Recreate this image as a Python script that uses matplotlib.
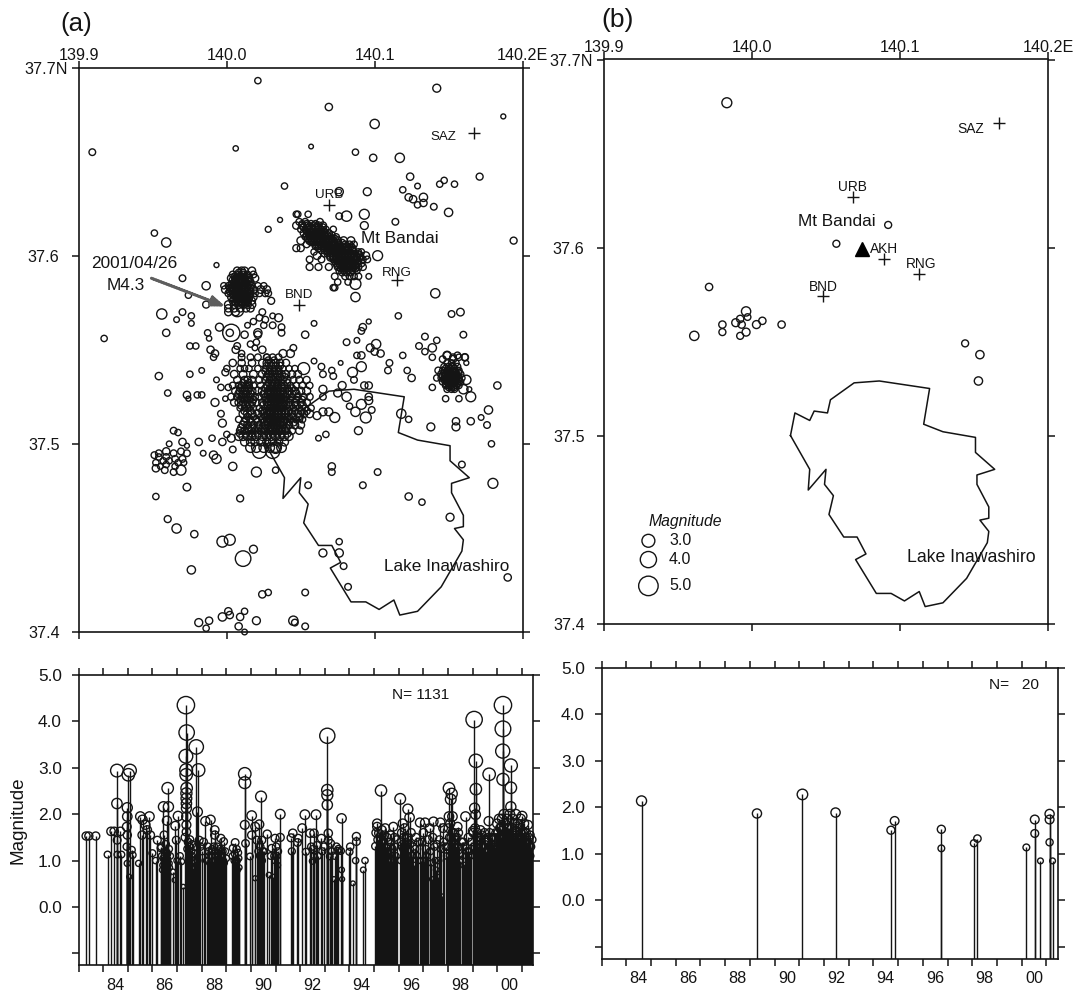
import numpy as np
import matplotlib
matplotlib.use('Agg')
import matplotlib.pyplot as plt

# ================= Configuration Area =================
OUTPUT_IMAGE = 'out.png'
W, H = 1079, 997
INK = '#141414'
plt.rcParams['font.family'] = ['Liberation Sans', 'DejaVu Sans']
# ===========================================

# Map (a): isolated events
scatter_lon = [
    140.021, 140.142, 140.069, 140.100, 140.187, 139.909, 140.006, 140.057,
    140.087, 140.099, 140.117, 140.124, 140.144, 140.147, 140.154, 140.171,
    140.039, 140.076, 140.095, 140.119, 140.129, 140.123, 140.126, 140.133,
    140.133, 140.129, 140.140, 140.150, 140.081, 140.076, 140.093, 140.093,
    140.114, 140.194, 140.036, 140.028, 139.951, 139.959, 139.993, 139.970,
    140.102, 140.096, 140.141, 140.087, 140.087, 140.116, 140.152, 140.158,
    140.160, 140.134, 140.142, 140.139, 140.130, 140.053, 140.059, 140.096,
    140.092, 140.091, 140.081, 140.088, 140.101, 140.097, 140.104, 140.100,
    140.088, 140.091, 140.119, 140.134, 140.139, 140.149, 140.153, 140.157,
    140.161, 139.956, 139.959, 139.917, 139.974, 139.966, 139.970, 139.976,
    139.976, 139.986, 139.986, 139.987, 139.988, 139.975, 139.979, 139.995,
    140.003, 140.002, 140.007, 140.012, 140.014, 140.018, 140.022, 140.024,
    140.026, 140.031, 140.035, 140.025, 140.031, 140.037, 140.037, 140.021,
    140.021, 140.016, 140.020, 140.019, 140.007, 140.006, 140.010, 140.024,
    140.027, 140.045, 140.043, 140.038, 139.989, 139.992, 139.991, 139.954,
    139.960, 139.975, 139.983, 139.973, 139.974, 139.980, 139.983, 139.992,
    139.993, 139.999, 139.996, 140.001, 139.999, 139.996, 139.997, 140.008,
    140.000, 140.003, 139.997, 139.990, 140.004, 139.981, 139.984, 139.991,
    139.993, 140.004, 140.020, 140.033, 139.973, 139.952, 140.009, 139.960,
    139.966, 139.978, 139.997, 140.002, 140.018, 140.011, 139.976, 140.024,
    140.028, 140.053, 139.981, 139.988, 139.986, 139.997, 140.001, 140.002,
    140.012, 140.009, 140.020, 140.008, 140.012, 140.045, 140.046, 140.053,
    140.055, 140.071, 140.071, 140.102, 140.092, 140.123, 140.132, 140.151,
    140.076, 140.065, 140.076, 140.079, 140.082, 140.190, 140.180, 140.159,
    140.179, 140.177, 140.176, 140.172, 140.165, 140.155, 140.155, 140.138,
    140.183, 140.123, 140.118, 140.089, 140.062, 140.067, 140.077, 140.059,
    140.052, 140.064, 140.071, 140.072, 140.065, 140.078, 140.065, 140.075,
    140.081, 140.065, 140.085, 140.091, 140.086, 140.093, 140.096, 140.096,
    140.096, 140.083, 140.091, 140.087, 140.094, 140.098, 140.073, 140.065,
    140.069, 140.061, 140.109, 140.110, 140.122, 140.125, 140.022, 140.031,
    140.033, 140.143, 140.146, 140.149, 140.153, 140.156, 140.161, 140.162,
    140.142, 140.139, 140.148, 140.157, 140.160, 140.165, 140.164, 140.162,
    139.964, 139.967, 139.970, 139.961, 139.973, 139.951, 139.954, 139.959,
    139.964, 139.969, 139.973, 139.954, 139.959, 139.965, 139.970, 139.957,
    139.952, 139.961, 139.967, 139.971, 139.952, 139.958, 139.959, 139.964,
    139.965, 139.969, 139.955,
]
scatter_lat = [
    37.693, 37.689, 37.679, 37.670, 37.674, 37.655, 37.657, 37.658,
    37.655, 37.652, 37.652, 37.642, 37.638, 37.640, 37.638, 37.642,
    37.637, 37.634, 37.634, 37.635, 37.637, 37.631, 37.630, 37.631,
    37.628, 37.627, 37.626, 37.623, 37.621, 37.621, 37.622, 37.616,
    37.618, 37.608, 37.619, 37.614, 37.612, 37.607, 37.595, 37.588,
    37.600, 37.589, 37.580, 37.578, 37.585, 37.568, 37.569, 37.570,
    37.558, 37.557, 37.555, 37.551, 37.552, 37.558, 37.564, 37.565,
    37.562, 37.560, 37.554, 37.555, 37.553, 37.551, 37.548, 37.549,
    37.547, 37.547, 37.547, 37.549, 37.546, 37.547, 37.546, 37.546,
    37.546, 37.569, 37.559, 37.556, 37.579, 37.566, 37.570, 37.564,
    37.568, 37.584, 37.574, 37.559, 37.556, 37.552, 37.552, 37.562,
    37.559, 37.559, 37.571, 37.558, 37.563, 37.565, 37.567, 37.570,
    37.566, 37.568, 37.567, 37.563, 37.563, 37.562, 37.559, 37.559,
    37.558, 37.553, 37.554, 37.551, 37.552, 37.550, 37.548, 37.550,
    37.546, 37.551, 37.548, 37.548, 37.550, 37.548, 37.546, 37.536,
    37.527, 37.537, 37.539, 37.526, 37.524, 37.526, 37.526, 37.522,
    37.534, 37.538, 37.530, 37.530, 37.524, 37.516, 37.511, 37.513,
    37.505, 37.503, 37.501, 37.503, 37.497, 37.501, 37.495, 37.494,
    37.492, 37.488, 37.485, 37.486, 37.477, 37.472, 37.471, 37.460,
    37.455, 37.452, 37.448, 37.449, 37.444, 37.439, 37.433, 37.420,
    37.421, 37.421, 37.405, 37.406, 37.402, 37.408, 37.411, 37.409,
    37.411, 37.408, 37.406, 37.403, 37.400, 37.406, 37.405, 37.403,
    37.478, 37.488, 37.485, 37.485, 37.478, 37.472, 37.469, 37.461,
    37.448, 37.442, 37.442, 37.435, 37.424, 37.429, 37.479, 37.489,
    37.500, 37.518, 37.510, 37.514, 37.512, 37.512, 37.509, 37.509,
    37.531, 37.513, 37.516, 37.507, 37.503, 37.505, 37.543, 37.544,
    37.540, 37.541, 37.539, 37.536, 37.537, 37.531, 37.529, 37.527,
    37.525, 37.525, 37.538, 37.541, 37.534, 37.531, 37.531, 37.525,
    37.523, 37.520, 37.521, 37.517, 37.514, 37.518, 37.514, 37.517,
    37.517, 37.515, 37.539, 37.543, 37.539, 37.535, 37.496, 37.496,
    37.498, 37.539, 37.545, 37.547, 37.545, 37.547, 37.546, 37.543,
    37.535, 37.530, 37.524, 37.524, 37.529, 37.525, 37.529, 37.534,
    37.507, 37.506, 37.501, 37.500, 37.499, 37.494, 37.495, 37.496,
    37.495, 37.496, 37.495, 37.493, 37.493, 37.492, 37.492, 37.491,
    37.490, 37.491, 37.490, 37.490, 37.487, 37.486, 37.489, 37.485,
    37.488, 37.486, 37.488,
]
scatter_mag = [
    1.0, 1.5, 1.3, 1.9, 0.6, 1.1, 0.7, 0.5,
    1.0, 1.3, 1.9, 1.3, 1.0, 1.0, 1.0, 1.2,
    1.0, 1.6, 1.5, 1.0, 0.8, 1.3, 1.3, 1.6,
    1.3, 1.0, 1.1, 1.6, 2.2, 1.1, 2.1, 1.5,
    1.1, 1.2, 0.6, 0.9, 1.0, 1.9, 0.6, 1.1,
    2.1, 0.8, 1.9, 1.9, 2.4, 1.0, 1.1, 1.4,
    1.1, 1.1, 1.0, 1.6, 1.1, 1.3, 0.8, 0.6,
    1.3, 1.1, 1.1, 0.8, 1.9, 1.5, 1.3, 1.3,
    1.0, 1.3, 1.0, 1.0, 1.0, 1.3, 1.1, 1.0,
    1.1, 2.2, 1.3, 1.0, 1.0, 0.8, 1.1, 0.8,
    1.0, 1.6, 1.2, 1.0, 0.7, 1.0, 1.0, 1.5,
    4.3, 1.3, 3.0, 1.3, 0.8, 1.0, 1.1, 1.1,
    1.1, 0.8, 1.5, 1.0, 1.1, 1.1, 1.1, 1.6,
    1.3, 1.0, 1.0, 0.8, 1.1, 1.3, 1.0, 1.3,
    1.0, 1.1, 1.5, 1.5, 1.3, 1.3, 1.0, 1.3,
    1.0, 1.0, 0.8, 1.3, 0.6, 1.0, 1.0, 1.5,
    0.8, 1.2, 1.0, 1.0, 0.7, 1.1, 1.5, 1.0,
    1.0, 1.5, 1.3, 1.0, 1.1, 1.3, 0.8, 1.6,
    1.9, 1.6, 2.1, 1.0, 1.4, 1.0, 1.2, 1.2,
    1.9, 1.3, 2.4, 2.4, 1.5, 3.8, 1.6, 1.3,
    1.0, 1.1, 1.5, 1.3, 1.0, 1.6, 1.3, 1.3,
    1.0, 1.3, 1.5, 1.3, 0.8, 1.9, 1.1, 1.1,
    1.1, 1.3, 1.1, 1.1, 1.1, 1.3, 1.0, 1.5,
    1.0, 1.5, 1.6, 1.1, 1.1, 1.3, 2.1, 1.1,
    1.0, 1.6, 1.1, 0.8, 1.3, 1.3, 1.5, 1.5,
    1.3, 1.0, 1.9, 1.5, 0.8, 1.0, 0.5, 0.8,
    2.7, 1.1, 1.0, 1.1, 1.1, 1.5, 1.5, 1.5,
    1.9, 1.1, 2.1, 2.1, 1.1, 1.3, 1.3, 1.3,
    1.5, 1.0, 2.1, 1.9, 2.4, 1.1, 2.1, 1.5,
    1.5, 1.5, 1.1, 1.1, 1.0, 1.3, 3.3, 3.4,
    2.6, 1.1, 1.1, 1.6, 1.3, 1.1, 1.3, 0.6,
    1.0, 1.0, 1.0, 1.0, 1.9, 2.1, 0.6, 1.9,
    1.1, 1.0, 1.3, 0.8, 0.6, 1.1, 1.1, 1.3,
    1.1, 1.1, 1.1, 1.0, 1.1, 1.1, 1.1, 1.0,
    1.0, 1.0, 1.0, 0.8, 1.3, 1.1, 1.0, 1.1,
    1.0, 2.1, 0.8,
]

# Map (a): dense swarms, one entry per latitude band
bandai_lat = [37.622, 37.618, 37.616, 37.614, 37.612, 37.610, 37.608, 37.606, 37.604, 37.602,
              37.600, 37.598, 37.596, 37.594, 37.592, 37.589, 37.586, 37.583,
              37.617, 37.615, 37.613, 37.611, 37.609, 37.607, 37.605, 37.603, 37.601, 37.599,
              37.597, 37.595, 37.593, 37.591]
bandai_mag = [1.0, 1.1, 1.3, 1.0, 1.2, 1.0, 1.4, 1.1, 1.2, 1.0, 1.4, 1.1, 1.3, 1.2, 1.0, 1.1, 1.0, 1.0,
              1.0, 1.2, 1.0, 1.1, 1.2, 1.0, 1.1, 1.3, 1.0, 1.2, 1.1, 1.3, 1.0, 1.1]
bandai_lon = [
    [140.047, 140.048, 140.055],
    [140.049, 140.053, 140.063],
    [140.047, 140.051, 140.055, 140.059, 140.062, 140.065],
    [140.050, 140.053, 140.056, 140.058, 140.061, 140.064, 140.067, 140.072],
    [140.052, 140.055, 140.057, 140.060, 140.063, 140.066, 140.069],
    [140.053, 140.056, 140.059, 140.061, 140.064, 140.067, 140.070, 140.074],
    [140.050, 140.056, 140.058, 140.061, 140.064, 140.066, 140.069, 140.072, 140.075, 140.079, 140.084],
    [140.054, 140.060, 140.063, 140.066, 140.068, 140.071, 140.073, 140.076, 140.080, 140.083, 140.086],
    [140.047, 140.050, 140.062, 140.066, 140.069, 140.071, 140.074, 140.077, 140.079, 140.082, 140.085],
    [140.059, 140.068, 140.070, 140.073, 140.075, 140.078, 140.080, 140.083, 140.086, 140.089, 140.091],
    [140.061, 140.070, 140.072, 140.074, 140.077, 140.079, 140.081, 140.084, 140.087, 140.090, 140.094],
    [140.056, 140.064, 140.072, 140.074, 140.076, 140.078, 140.081, 140.083, 140.086, 140.088, 140.092, 140.095],
    [140.074, 140.076, 140.079, 140.081, 140.083, 140.085, 140.088, 140.091],
    [140.056, 140.062, 140.069, 140.075, 140.078, 140.081, 140.083, 140.086, 140.089, 140.092],
    [140.076, 140.079, 140.082, 140.085, 140.088],
    [140.073, 140.080, 140.083, 140.086, 140.089],
    [140.075, 140.082],
    [140.072, 140.073],
    [140.051, 140.054, 140.057, 140.060],
    [140.052, 140.055, 140.057, 140.060, 140.062, 140.065],
    [140.054, 140.056, 140.058, 140.060, 140.062, 140.064, 140.066],
    [140.054, 140.056, 140.058, 140.060, 140.062, 140.064, 140.066, 140.068, 140.071],
    [140.055, 140.057, 140.059, 140.061, 140.063, 140.065, 140.067, 140.069, 140.071, 140.073],
    [140.057, 140.059, 140.061, 140.063, 140.065, 140.067, 140.069, 140.071, 140.073, 140.075, 140.078],
    [140.060, 140.062, 140.064, 140.066, 140.068, 140.070, 140.072, 140.074, 140.076, 140.078, 140.081, 140.084],
    [140.064, 140.066, 140.068, 140.070, 140.072, 140.074, 140.076, 140.078, 140.080, 140.082, 140.085],
    [140.066, 140.068, 140.070, 140.072, 140.074, 140.076, 140.078, 140.080, 140.082, 140.084, 140.086, 140.089],
    [140.070, 140.072, 140.074, 140.076, 140.078, 140.080, 140.082, 140.084, 140.086, 140.088, 140.090],
    [140.073, 140.075, 140.077, 140.079, 140.081, 140.083, 140.085, 140.087, 140.089],
    [140.075, 140.077, 140.079, 140.081, 140.083, 140.085, 140.087],
    [140.077, 140.079, 140.081, 140.084, 140.087],
    [140.078, 140.081, 140.084],
]
main_lat = [37.592, 37.590, 37.588, 37.586, 37.584, 37.582, 37.580, 37.578, 37.576, 37.574, 37.572, 37.570,
            37.591, 37.589, 37.587, 37.585, 37.583, 37.581, 37.579, 37.577, 37.575]
main_mag = [1.3, 1.1, 1.4, 1.2, 1.0, 1.4, 1.1, 1.3, 1.2, 1.4, 1.3, 1.3,
            1.1, 1.0, 1.2, 1.0, 1.1, 1.2, 1.0, 1.1, 1.2]
main_lon = [
    [140.007, 140.010, 140.012, 140.017],
    [140.004, 140.008, 140.011, 140.014, 140.018],
    [140.003, 140.006, 140.009, 140.012, 140.015, 140.019],
    [140.005, 140.008, 140.010, 140.013, 140.016],
    [139.998, 140.001, 140.004, 140.007, 140.009, 140.011, 140.014, 140.017, 140.021, 140.025],
    [139.999, 140.003, 140.005, 140.008, 140.010, 140.012, 140.015, 140.018, 140.023, 140.027],
    [140.001, 140.004, 140.006, 140.009, 140.011, 140.013, 140.016, 140.019, 140.022, 140.026, 140.028],
    [140.003, 140.006, 140.008, 140.010, 140.013, 140.015, 140.018],
    [140.004, 140.007, 140.009, 140.012, 140.014, 140.017, 140.030],
    [140.001, 140.005, 140.008, 140.011, 140.014, 140.017],
    [140.001, 140.005, 140.009, 140.013, 140.016],
    [140.001, 140.006],
    [140.008, 140.011],
    [140.005, 140.007, 140.009, 140.011, 140.013],
    [140.004, 140.006, 140.008, 140.010, 140.012, 140.014],
    [140.003, 140.005, 140.007, 140.009, 140.011, 140.013, 140.015],
    [140.002, 140.004, 140.006, 140.008, 140.010, 140.012, 140.014, 140.016],
    [140.002, 140.004, 140.006, 140.008, 140.010, 140.012, 140.014, 140.016],
    [140.004, 140.006, 140.008, 140.010, 140.012, 140.014, 140.016],
    [140.005, 140.007, 140.009, 140.011, 140.013, 140.015],
    [140.006, 140.008, 140.010, 140.012, 140.014],
]
central_lat = [37.546, 37.543, 37.540, 37.537, 37.534, 37.531, 37.528, 37.525, 37.522, 37.519,
               37.516, 37.513, 37.510, 37.507, 37.504, 37.501, 37.498,
               37.5445, 37.5415, 37.5385, 37.5355, 37.5325, 37.5295, 37.5265, 37.5235, 37.5205,
               37.5175, 37.5145, 37.5115, 37.5085, 37.5055]
central_mag = [1.1, 1.3, 1.0, 1.4, 1.2, 1.1, 1.5, 1.2, 1.3, 1.0, 1.5, 1.2, 1.4, 1.3, 1.6, 1.5, 2.0,
               1.0, 1.2, 1.1, 1.3, 1.0, 1.2, 1.4, 1.1, 1.5, 1.3, 1.1, 1.4, 1.5, 1.3]
central_lon = [
    [140.010, 140.016, 140.021, 140.027, 140.031, 140.035],
    [140.004, 140.010, 140.017, 140.024, 140.027, 140.030, 140.033, 140.036, 140.040],
    [140.000, 140.009, 140.012, 140.015, 140.021, 140.026, 140.029, 140.032, 140.035, 140.038, 140.042, 140.046],
    [140.005, 140.011, 140.018, 140.024, 140.028, 140.031, 140.034, 140.037, 140.040, 140.044, 140.048],
    [140.007, 140.012, 140.014, 140.017, 140.022, 140.026, 140.029, 140.032, 140.035, 140.038, 140.041, 140.045,
     140.049, 140.054],
    [140.004, 140.008, 140.010, 140.013, 140.015, 140.018, 140.023, 140.027, 140.030, 140.032, 140.034, 140.037,
     140.039, 140.043, 140.047, 140.051, 140.056],
    [140.006, 140.009, 140.012, 140.014, 140.017, 140.021, 140.024, 140.028, 140.030, 140.032, 140.034, 140.036,
     140.039, 140.042, 140.046, 140.050, 140.054],
    [140.003, 140.007, 140.010, 140.013, 140.016, 140.019, 140.022, 140.026, 140.029, 140.031, 140.033, 140.035,
     140.037, 140.040, 140.044, 140.048, 140.052, 140.056],
    [140.005, 140.008, 140.011, 140.014, 140.017, 140.020, 140.024, 140.027, 140.030, 140.032, 140.033, 140.035,
     140.037, 140.039, 140.042, 140.046, 140.050, 140.054],
    [140.009, 140.012, 140.015, 140.018, 140.022, 140.026, 140.029, 140.031, 140.033, 140.034, 140.036, 140.038,
     140.041, 140.045, 140.049, 140.053, 140.057],
    [140.011, 140.014, 140.017, 140.021, 140.025, 140.028, 140.030, 140.032, 140.034, 140.035, 140.037, 140.040,
     140.044, 140.048, 140.052, 140.056],
    [140.013, 140.016, 140.020, 140.024, 140.027, 140.029, 140.031, 140.033, 140.035, 140.037, 140.039, 140.043,
     140.047, 140.051],
    [140.011, 140.014, 140.018, 140.022, 140.026, 140.028, 140.030, 140.032, 140.034, 140.036, 140.038, 140.042,
     140.046, 140.050],
    [140.009, 140.012, 140.015, 140.019, 140.023, 140.026, 140.029, 140.031, 140.033, 140.035, 140.037, 140.040,
     140.044, 140.049],
    [140.008, 140.011, 140.014, 140.017, 140.020, 140.024, 140.027, 140.030, 140.033, 140.036, 140.039, 140.042],
    [140.012, 140.016, 140.019, 140.023, 140.027, 140.031, 140.035, 140.039],
    [140.016, 140.020, 140.025, 140.029, 140.033, 140.037],
    [140.028, 140.032],
    [140.027, 140.030, 140.033, 140.036],
    [140.026, 140.029, 140.032, 140.035],
    [140.027, 140.030, 140.033, 140.036, 140.039],
    [140.011, 140.015, 140.028, 140.031, 140.034, 140.037, 140.041],
    [140.009, 140.012, 140.015, 140.026, 140.029, 140.031, 140.033, 140.035, 140.038, 140.041, 140.044],
    [140.008, 140.011, 140.013, 140.016, 140.025, 140.028, 140.030, 140.032, 140.034, 140.036, 140.038, 140.041,
     140.044, 140.047],
    [140.009, 140.012, 140.015, 140.018, 140.026, 140.028, 140.030, 140.032, 140.034, 140.036, 140.038, 140.040,
     140.043, 140.047, 140.051],
    [140.010, 140.013, 140.016, 140.025, 140.028, 140.030, 140.032, 140.034, 140.036, 140.038, 140.040, 140.043,
     140.047, 140.051],
    [140.012, 140.016, 140.024, 140.027, 140.029, 140.031, 140.033, 140.035, 140.037, 140.039, 140.042, 140.046,
     140.050, 140.054],
    [140.014, 140.018, 140.023, 140.026, 140.029, 140.031, 140.033, 140.035, 140.037, 140.039, 140.042, 140.045,
     140.049],
    [140.012, 140.016, 140.021, 140.025, 140.028, 140.030, 140.032, 140.034, 140.036, 140.038, 140.041, 140.045],
    [140.010, 140.014, 140.017, 140.021, 140.025, 140.029, 140.031, 140.033, 140.035, 140.037, 140.040],
    [140.009, 140.013, 140.017, 140.021, 140.025, 140.028, 140.031, 140.034, 140.037, 140.041],
]
east_lat = [37.543, 37.541, 37.539, 37.537, 37.535, 37.533, 37.531, 37.529,
            37.540, 37.538, 37.536, 37.534, 37.532, 37.530]
east_mag = [1.0, 1.1, 1.0, 1.2, 1.0, 1.1, 1.0, 1.0, 1.1, 1.0, 1.2, 1.0, 1.1, 1.0]
east_lon = [
    [140.149, 140.152, 140.155],
    [140.147, 140.150, 140.153, 140.156],
    [140.146, 140.149, 140.151, 140.154, 140.157],
    [140.145, 140.148, 140.150, 140.152, 140.155, 140.158],
    [140.145, 140.147, 140.150, 140.152, 140.154, 140.157, 140.159],
    [140.146, 140.149, 140.151, 140.153, 140.156, 140.158],
    [140.148, 140.150, 140.152, 140.155, 140.157],
    [140.149, 140.152, 140.154],
    [140.148, 140.151, 140.154],
    [140.147, 140.149, 140.151, 140.153, 140.155, 140.157],
    [140.146, 140.148, 140.150, 140.152, 140.154, 140.156],
    [140.147, 140.149, 140.151, 140.153, 140.155, 140.157],
    [140.148, 140.150, 140.152, 140.154, 140.156],
    [140.150, 140.152, 140.154],
]

# Map (b) events
b_lon = [139.983, 140.092, 140.057, 139.971, 139.996, 140.007, 140.020, 140.003, 139.989, 139.992,
         139.997, 139.980, 139.961, 139.980, 139.992, 139.996, 139.993, 140.144, 140.154, 140.153]
b_lat = [37.677, 37.612, 37.602, 37.579, 37.566, 37.561, 37.559, 37.559, 37.560, 37.562,
         37.563, 37.559, 37.553, 37.555, 37.553, 37.555, 37.559, 37.549, 37.543, 37.529]
b_mag = [2.1, 1.2, 1.2, 1.3, 1.9, 1.3, 1.3, 1.5, 1.5, 1.3,
         1.1, 1.3, 1.9, 1.2, 1.2, 1.5, 1.3, 1.2, 1.6, 1.6]

# Lake Inawashiro shoreline
lake_lon = [140.026, 140.029, 140.039, 140.042, 140.051, 140.053, 140.069, 140.086, 140.120, 140.116,
            140.129, 140.151, 140.151, 140.164, 140.152, 140.152, 140.160, 140.160, 140.154, 140.160,
            140.159, 140.145, 140.129, 140.117, 140.113, 140.103, 140.094, 140.084, 140.070, 140.077,
            140.071, 140.062, 140.052, 140.055, 140.049, 140.050, 140.038, 140.039, 140.026]
lake_lat = [37.500, 37.512, 37.508, 37.513, 37.512, 37.519, 37.528, 37.529, 37.525, 37.506,
            37.502, 37.499, 37.491, 37.482, 37.479, 37.474, 37.462, 37.456, 37.455, 37.449,
            37.443, 37.424, 37.411, 37.409, 37.417, 37.412, 37.416, 37.416, 37.434, 37.437,
            37.446, 37.446, 37.458, 37.468, 37.474, 37.482, 37.471, 37.482, 37.500]

# Stations
station_a_lon = [140.167, 140.069, 140.049, 140.115]
station_a_lat = [37.665, 37.627, 37.574, 37.587]
station_b_lon = [140.167, 140.068, 140.089, 140.113, 140.048]
station_b_lat = [37.666, 37.627, 37.594, 37.586, 37.574]

# Magnitude-time, panel (a)
time_a = [
    1983.31, 1983.42, 1983.70, 1984.18, 1984.32, 1984.45, 1984.56, 1984.56, 1984.57, 1984.58,
    1984.70, 1984.74, 1984.98, 1984.98, 1984.96, 1984.98, 1984.96, 1984.98, 1985.02, 1985.09,
    1985.06, 1985.16, 1985.20, 1985.44, 1985.51, 1985.60, 1985.58, 1985.72, 1985.88, 1985.79,
    1985.92, 1986.00, 1986.20, 1986.13, 1986.34, 1986.48, 1986.45, 1986.62, 1986.65, 1986.59,
    1986.38, 1986.42, 1986.52, 1986.56, 1986.68, 1986.72, 1986.83, 1986.93, 1987.04, 1986.97,
    1986.90, 1987.00, 1987.12, 1987.18, 1987.25, 1987.36, 1987.39, 1987.36, 1987.37, 1987.37,
    1987.39, 1987.38, 1987.38, 1987.38, 1987.38, 1987.38, 1987.38, 1987.38, 1987.33, 1987.45,
    1987.50, 1987.58, 1987.62, 1987.68, 1987.72, 1987.78, 1987.87, 1987.83, 1987.90, 1987.95,
    1988.02, 1988.08, 1988.15, 1988.20, 1988.25, 1988.30, 1988.36, 1988.40, 1988.45, 1988.50,
    1988.53, 1988.53, 1988.58, 1988.62, 1988.68, 1988.72, 1988.78, 1988.82, 1988.89, 1988.95,
    1989.00, 1989.25, 1989.27, 1989.32, 1989.36, 1989.40, 1989.44, 1989.48, 1989.52, 1989.75,
    1989.75, 1989.75, 1989.78, 1989.96, 1990.03, 1990.03, 1990.17, 1990.17, 1990.34, 1990.24,
    1990.41, 1990.30, 1990.44, 1990.52, 1990.66, 1990.73, 1990.84, 1990.80, 1990.98, 1990.90,
    1990.98, 1991.00, 1991.19, 1991.19, 1991.05, 1991.10, 1991.63, 1991.70, 1991.89, 1991.92,
    1992.08, 1992.19, 1992.23, 1992.40, 1992.50, 1992.56, 1992.55, 1992.64, 1992.68, 1992.86,
    1992.96, 1993.10, 1993.10, 1993.10, 1993.10, 1993.14, 1993.14, 1993.24, 1993.20, 1993.37,
    1993.47, 1993.51, 1993.65, 1993.68, 1993.68, 1993.70, 1994.00, 1994.03, 1994.14, 1994.25,
    1994.28, 1994.28, 1994.56, 1994.63, 1995.05, 1995.12, 1995.12, 1995.19, 1995.28, 1995.32,
    1995.22, 1995.38, 1995.45, 1995.50, 1995.55, 1995.60, 1995.65, 1995.70, 1995.78, 1995.72,
    1995.85, 1995.92, 1996.06, 1996.08, 1996.16, 1996.12, 1996.20, 1996.37, 1996.44, 1996.30,
    1996.50, 1996.40, 1996.58, 1996.62, 1996.70, 1996.75, 1996.86, 1996.90, 1996.95, 1997.07,
    1997.02, 1997.15, 1997.28, 1997.35, 1997.41, 1997.45, 1997.52, 1997.58, 1997.62, 1997.69,
    1997.76, 1997.82, 1997.95, 1998.04, 1998.15, 1998.11, 1998.04, 1998.18, 1998.00, 1998.07,
    1998.12, 1998.22, 1998.26, 1998.30, 1998.34, 1998.39, 1998.44, 1998.50, 1998.55, 1998.64,
    1998.71, 1998.62, 1998.75, 1998.85, 1998.95, 1999.02, 1999.06, 1999.13, 1999.13, 1999.08,
    1999.12, 1999.00, 1999.17, 1999.20, 1999.24, 1999.28, 1999.32, 1999.36, 1999.40, 1999.55,
    1999.59, 1999.63, 1999.67, 1999.65, 1999.71, 1999.75, 1999.79, 1999.83, 1999.87, 1999.92,
    1999.99, 2000.03, 2000.07, 2000.11, 2000.15, 2000.19, 2000.23, 2000.23, 2000.22, 2000.23,
    2000.27, 2000.31, 2000.35, 2000.39, 2000.43, 2000.47, 2000.51, 2000.55, 2000.55, 2000.55,
    2000.59, 2000.63, 2000.67, 2000.71, 2000.75, 2000.79, 2000.83, 2000.87, 2000.91, 2000.95,
    2001.01, 2001.05, 2001.09, 2001.13, 2001.17, 2001.21, 2001.25, 2001.29, 2001.33, 2001.37,
    # smaller events inside the dense stretches
    1986.36, 1986.40, 1986.44, 1986.50, 1986.54, 1986.58, 1986.61, 1986.64, 1986.67, 1986.70,
    1987.42, 1987.47, 1987.52, 1987.55, 1987.60, 1987.65, 1987.70, 1987.74, 1987.80, 1987.85,
    1988.28, 1988.33, 1988.38, 1988.43, 1988.48, 1988.55, 1988.60, 1988.65, 1988.70, 1988.75,
    1988.80, 1988.85, 1988.92, 1989.34, 1989.38, 1989.42, 1989.46, 1989.50, 1990.36, 1990.38,
    1990.46, 1990.48, 1990.94, 1991.02, 1991.08, 1991.66, 1992.45, 1992.52, 1992.72, 1992.90,
    1993.28, 1993.40, 1993.55, 1995.08, 1995.15, 1995.25, 1995.35, 1995.42, 1995.48, 1995.53,
    1995.58, 1995.63, 1995.68, 1995.75, 1995.82, 1995.88, 1996.10, 1996.18, 1996.24, 1996.28,
    1996.34, 1996.46, 1996.54, 1996.66, 1996.80, 1997.00, 1997.10, 1997.20, 1997.25, 1997.32,
    1997.38, 1997.48, 1997.55, 1997.65, 1997.72, 1997.80, 1997.90, 1998.02, 1998.06, 1998.09,
    1998.14, 1998.17, 1998.20, 1998.24, 1998.28, 1998.32, 1998.36, 1998.42, 1998.46, 1998.58,
    1998.68, 1998.78, 1998.82, 1998.90, 1999.04, 1999.10, 1999.15, 1999.19, 1999.22, 1999.26,
    1999.30, 1999.34, 1999.38, 1999.44, 1999.48, 1999.52, 1999.57, 1999.61, 1999.69, 1999.73,
    1999.77, 1999.81, 1999.85, 1999.89, 1999.95, 2000.01, 2000.05, 2000.09, 2000.13, 2000.17,
    2000.21, 2000.25, 2000.29, 2000.33, 2000.37, 2000.41, 2000.45, 2000.49, 2000.53, 2000.57,
    2000.61, 2000.65, 2000.69, 2000.73, 2000.77, 2000.81, 2000.85, 2000.89, 2000.93, 2000.97,
    2001.03, 2001.07, 2001.11, 2001.15, 2001.19, 2001.23, 2001.27, 2001.31, 2001.35, 2001.41,
]
mag_a = [
    1.53, 1.53, 1.53, 1.13, 1.63, 1.63, 2.94, 2.23, 1.44, 1.13,
    1.63, 1.13, 2.14, 1.95, 1.73, 1.55, 1.30, 0.94, 2.85, 2.94,
    0.65, 1.23, 1.12, 0.94, 1.95, 1.88, 1.55, 1.77, 1.95, 1.66,
    1.55, 1.16, 1.44, 1.00, 1.27, 1.55, 2.16, 2.56, 2.16, 1.86,
    1.10, 0.90, 1.20, 1.00, 0.94, 1.10, 0.76, 1.75, 1.96, 1.44,
    0.58, 1.00, 1.10, 0.98, 0.44, 4.35, 3.76, 3.25, 2.95, 2.85,
    2.56, 2.45, 2.34, 2.23, 2.13, 1.95, 1.77, 1.62, 1.50, 1.40,
    1.30, 1.20, 1.10, 1.00, 0.72, 3.45, 2.95, 2.05, 1.44, 1.30,
    1.20, 1.40, 1.85, 1.00, 1.30, 1.10, 1.88, 1.20, 1.00, 1.30,
    1.66, 1.55, 1.10, 1.30, 1.00, 1.20, 1.48, 1.10, 1.41, 1.20,
    1.05, 1.10, 1.27, 1.00, 1.39, 0.85, 1.00, 1.17, 0.85, 2.87,
    2.68, 1.77, 1.37, 1.09, 1.97, 1.55, 1.73, 0.62, 1.78, 1.44,
    2.38, 1.20, 1.44, 1.20, 1.57, 0.69, 1.27, 1.10, 1.48, 0.65,
    1.00, 0.51, 2.00, 1.50, 1.10, 1.20, 1.49, 1.59, 1.39, 1.48,
    1.70, 1.99, 1.19, 1.59, 0.99, 1.59, 1.09, 1.99, 1.33, 1.48,
    1.30, 3.69, 2.52, 2.41, 2.20, 1.59, 1.44, 1.37, 1.09, 0.60,
    1.30, 1.21, 1.21, 1.91, 0.80, 0.60, 1.19, 1.30, 0.51, 1.00,
    1.52, 1.41, 0.80, 1.00, 1.31, 1.80, 1.73, 1.59, 2.51, 1.66,
    1.20, 1.40, 1.70, 1.10, 1.30, 1.00, 0.85, 1.10, 1.73, 1.00,
    1.30, 1.45, 2.33, 1.00, 1.80, 1.60, 1.50, 2.11, 1.93, 1.40,
    1.60, 1.10, 1.30, 0.90, 1.50, 1.10, 1.82, 1.00, 1.40, 1.82,
    1.00, 1.10, 1.20, 0.60, 1.84, 1.30, 0.80, 0.65, 1.00, 1.82,
    0.24, 1.40, 1.10, 2.56, 2.44, 2.32, 1.95, 1.95, 1.30, 1.10,
    1.50, 1.40, 1.20, 1.50, 1.30, 1.73, 1.30, 1.00, 1.40, 0.90,
    1.95, 1.40, 0.85, 1.20, 1.40, 1.60, 4.04, 3.15, 2.54, 2.13,
    1.99, 1.64, 1.50, 1.30, 1.50, 1.20, 1.66, 1.30, 1.10, 1.20,
    1.40, 1.50, 2.86, 1.85, 1.30, 1.50, 1.10, 1.30, 1.50, 1.25,
    1.80, 1.60, 1.90, 1.70, 1.50, 1.90, 4.35, 3.84, 3.36, 2.75,
    2.00, 1.80, 1.60, 1.90, 1.70, 1.50, 2.00, 3.05, 2.57, 2.16,
    1.70, 1.90, 1.50, 1.80, 2.00, 1.60, 1.80, 1.50, 1.70, 1.90,
    1.96, 1.60, 1.80, 1.40, 1.60, 1.30, 1.77, 1.50, 1.55, 1.30,
    # smaller events inside the dense stretches
    1.30, 0.80, 1.05, 0.75, 1.35, 0.90, 1.15, 0.70, 1.25, 0.85,
    1.25, 1.05, 1.45, 0.90, 1.35, 0.85, 1.15, 0.95, 1.30, 1.00,
    1.20, 0.95, 1.10, 1.25, 0.95, 1.20, 0.90, 1.15, 1.00, 1.25,
    1.00, 1.20, 0.95, 1.15, 0.95, 1.25, 0.80, 1.05, 1.10, 1.30,
    1.00, 1.20, 1.10, 1.30, 0.90, 1.20, 1.30, 1.25, 1.10, 1.20,
    1.20, 1.10, 1.25, 1.60, 1.45, 1.50, 1.25, 1.55, 1.30, 1.50,
    1.20, 1.40, 1.55, 1.25, 1.50, 1.10, 1.40, 1.25, 1.70, 1.10,
    1.50, 1.35, 1.10, 1.25, 1.40, 1.60, 1.25, 1.45, 1.70, 0.95,
    1.50, 1.00, 1.35, 1.45, 1.25, 1.70, 1.30, 1.70, 1.50, 1.80,
    1.30, 1.60, 1.20, 1.60, 1.35, 1.10, 1.50, 1.60, 1.15, 1.10,
    1.30, 1.20, 1.50, 1.10, 1.30, 1.70, 1.20, 1.60, 1.10, 1.35,
    1.50, 1.10, 1.55, 1.30, 1.60, 1.45, 1.00, 1.20, 1.60, 1.25,
    1.50, 1.35, 1.10, 1.30, 1.60, 1.30, 1.50, 1.20, 1.70, 1.30,
    1.65, 1.40, 1.20, 1.40, 1.50, 1.20, 1.30, 1.70, 1.40, 1.35,
    1.50, 1.20, 1.45, 1.30, 1.65, 1.30, 1.10, 1.40, 1.25, 1.60,
    1.35, 1.20, 1.50, 1.25, 1.05, 1.40, 1.20, 1.30, 1.10, 1.45,
]

# Magnitude-time, panel (b)
time_b = [1984.62, 1989.29, 1991.13, 1992.47, 1994.71, 1994.86, 1996.75, 1996.75, 1998.07, 1998.21,
          2000.19, 2000.53, 2000.53, 2000.76, 2001.13, 2001.13, 2001.13, 2001.25]
mag_b = [2.14, 1.87, 2.28, 1.89, 1.51, 1.71, 1.53, 1.12, 1.23, 1.33,
         1.14, 1.74, 1.44, 0.85, 1.86, 1.74, 1.25, 0.85]

legend_mag = [3.0, 4.0, 5.0]
legend_lat = [37.444, 37.434, 37.420]

year_ticks = list(range(1983, 2002))
year_labels = ['84', '86', '88', '90', '92', '94', '96', '98', '00']
lon_ticks = [139.9, 140.0, 140.1, 140.2]
lat_ticks = [37.4, 37.5, 37.6, 37.7]


def pixel_axes(fig, left, right, top, bottom):
    return fig.add_axes([left / W, 1 - bottom / H, (right - left) / W, (bottom - top) / H])


def size_of(mag):
    # circle diameter grows linearly with magnitude, 1 px = 0.72 pt at dpi 100
    return ((3 + 3.3 * np.asarray(mag, dtype=float)) * 0.72) ** 2


def circles(ax, x, y, mag):
    ax.scatter(x, y, s=size_of(mag), facecolors='none', edgecolors=INK, linewidths=1.0,
               clip_on=False, zorder=3)


def swarm(ax, rows_lon, rows_lat, rows_mag):
    for lons, lat, mag in zip(rows_lon, rows_lat, rows_mag):
        circles(ax, lons, [lat] * len(lons), [mag] * len(lons))


def frame(ax):
    for spine in ax.spines.values():
        spine.set_linewidth(1.2)
        spine.set_color(INK)


def style_map(ax):
    frame(ax)
    ax.set_xlim(139.9, 140.2)
    ax.set_ylim(37.4, 37.7)
    ax.set_xticks(lon_ticks)
    ax.set_xticklabels(['139.9', '140.0', '140.1', '140.2E'], fontsize=11.6, color=INK)
    ax.set_yticks(lat_ticks)
    ax.set_yticklabels(['37.4', '37.5', '37.6', '37.7N'], fontsize=11.6, color=INK)
    ax.tick_params(axis='both', direction='out', length=5, width=1.1, color=INK,
                   top=True, bottom=True, left=True, right=True, labeltop=True, labelbottom=False)
    ax.tick_params(axis='x', pad=-1.5)
    ax.tick_params(axis='y', pad=9)
    ax.yaxis.get_major_ticks()[-1].set_pad(3)
    ax.plot(lake_lon, lake_lat, color=INK, lw=1.1, zorder=2)


def style_time(ax):
    frame(ax)
    ax.set_xlim(1983, 2001.45)
    ax.set_ylim(-1.25, 5.0)
    ax.set_yticks([-1, 0, 1, 2, 3, 4, 5])
    ax.set_yticklabels(['', '0.0', '1.0', '2.0', '3.0', '4.0', '5.0'], fontsize=12.4, color=INK)
    ax.set_xticks(year_ticks)
    ax.set_xticklabels([])
    ax.set_xticks([y + 0.5 for y in range(1984, 2002, 2)], minor=True)
    ax.set_xticklabels(year_labels, minor=True, fontsize=11.7, color=INK)
    ax.tick_params(axis='both', which='major', direction='out', length=5, width=1.1, color=INK,
                   top=True, right=True, bottom=True, left=True)
    ax.tick_params(axis='y', pad=7)
    ax.tick_params(axis='x', which='minor', length=0, pad=9)


def stems(ax, t, m):
    ax.vlines(t, -1.25, m, color=INK, lw=1.0, zorder=2)
    circles(ax, t, m, m)


def plot_and_save():
    fig = plt.figure(figsize=(W / 100, H / 100), dpi=100)

    # === Map (a) ===
    ax1 = pixel_axes(fig, 79, 522.5, 67.5, 632)
    style_map(ax1)
    circles(ax1, scatter_lon, scatter_lat, scatter_mag)
    swarm(ax1, bandai_lon, bandai_lat, bandai_mag)
    swarm(ax1, main_lon, main_lat, main_mag)
    swarm(ax1, central_lon, central_lat, central_mag)
    swarm(ax1, east_lon, east_lat, east_mag)
    ax1.plot(station_a_lon, station_a_lat, '+', color=INK, ms=9, mew=1.0, zorder=4)
    ax1.text(140.138, 37.663, 'SAZ', fontsize=9.6, ha='left', va='center', color=INK)
    ax1.text(140.069, 37.632, 'URB', fontsize=9.6, ha='center', va='center', color=INK)
    ax1.text(140.049, 37.579, 'BND', fontsize=9.6, ha='center', va='center', color=INK)
    ax1.text(140.115, 37.591, 'RNG', fontsize=9.6, ha='center', va='center', color=INK)
    ax1.text(140.091, 37.609, 'Mt Bandai', fontsize=12.4, ha='left', va='center', color=INK, zorder=5)
    ax1.text(140.106, 37.435, 'Lake Inawashiro', fontsize=12.3, ha='left', va='center', color=INK, zorder=5)
    ax1.text(139.908, 37.596, '2001/04/26', fontsize=12.4, ha='left', va='center', color=INK)
    ax1.text(139.919, 37.584, 'M4.3', fontsize=12.4, ha='left', va='center', color=INK)
    ax1.annotate('', xy=(139.999, 37.573), xytext=(139.949, 37.588), zorder=4,
                 arrowprops=dict(arrowstyle='-|>,head_width=0.3,head_length=0.8', color='#5e5e5e',
                                 lw=2.2, linestyle=(0, (0.6, 0.3)), shrinkA=0, shrinkB=0))

    # === Map (b) ===
    ax2 = pixel_axes(fig, 604, 1048, 59.5, 623.5)
    style_map(ax2)
    circles(ax2, b_lon, b_lat, b_mag)
    ax2.plot(station_b_lon, station_b_lat, '+', color=INK, ms=9, mew=1.0, zorder=4)
    ax2.plot([140.074], [37.599], '^', color='black', ms=10, zorder=4)
    ax2.text(140.139, 37.663, 'SAZ', fontsize=9.9, ha='left', va='center', color=INK)
    ax2.text(140.068, 37.632, 'URB', fontsize=9.9, ha='center', va='center', color=INK)
    ax2.text(140.080, 37.599, 'AKH', fontsize=9.9, ha='left', va='center', color=INK)
    ax2.text(140.114, 37.591, 'RNG', fontsize=9.9, ha='center', va='center', color=INK)
    ax2.text(140.048, 37.579, 'BND', fontsize=9.9, ha='center', va='center', color=INK)
    ax2.text(140.031, 37.614, 'Mt Bandai', fontsize=12.4, ha='left', va='center', color=INK)
    ax2.text(140.105, 37.435, 'Lake Inawashiro', fontsize=12.7, ha='left', va='center', color=INK)
    ax2.text(139.930, 37.4545, 'Magnitude', fontsize=11.3, style='italic', ha='left', va='center', color=INK)
    circles(ax2, [139.930] * 3, legend_lat, legend_mag)
    for lat, mag in zip(legend_lat, legend_mag):
        ax2.text(139.944, lat, f'{mag:.1f}', fontsize=11.5, ha='left', va='center', color=INK)

    # === Magnitude-time (a) ===
    ax3 = pixel_axes(fig, 78.5, 533, 675, 965)
    style_time(ax3)
    stems(ax3, time_a, mag_a)
    ax3.text(1995.74, 4.57, 'N= 1131', fontsize=11.1, ha='left', va='center', color=INK)
    ax3.set_ylabel('Magnitude', fontsize=13.6, color=INK, labelpad=8)

    # === Magnitude-time (b) ===
    ax4 = pixel_axes(fig, 601.5, 1057.5, 668, 958.5)
    style_time(ax4)
    stems(ax4, time_b, mag_b)
    ax4.text(1998.68, 4.63, 'N=   20', fontsize=11.1, ha='left', va='center', color=INK)

    fig.text(60 / W, 1 - 24 / H, '(a)', fontsize=18.7, ha='left', va='center', color=INK)
    fig.text(601 / W, 1 - 20 / H, '(b)', fontsize=19, ha='left', va='center', color=INK)

    plt.savefig(OUTPUT_IMAGE, dpi=100)


if __name__ == "__main__":
    plot_and_save()
